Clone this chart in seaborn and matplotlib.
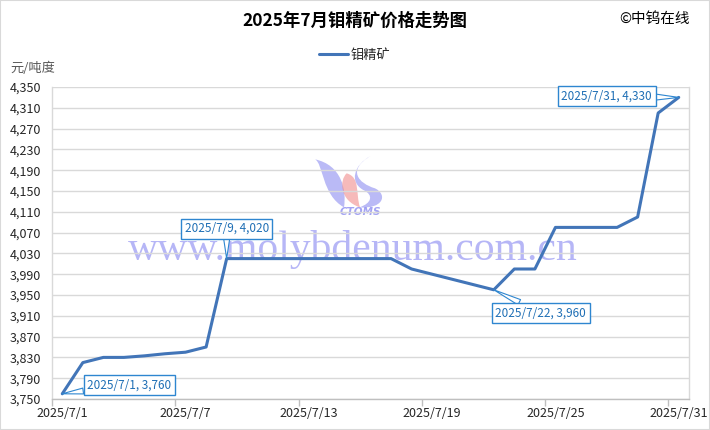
import matplotlib
matplotlib.use("Agg")
import matplotlib.pyplot as plt
import seaborn as sns
import pandas as pd
from matplotlib.ticker import FuncFormatter, FixedLocator
from matplotlib.patches import Rectangle, PathPatch
from matplotlib.path import Path
from matplotlib.lines import Line2D

# ---- data ----
days = list(range(1, 32))
prices = [3760, 3820, 3830, 3830, 3833, 3837, 3840, 3850, 4020, 4020,
          4020, 4020, 4020, 4020, 4020, 4020, 4020, 4000, 3990, 3980,
          3970, 3960, 4000, 4000, 4080, 4080, 4080, 4080, 4100, 4300, 4330]
tick_days = [1, 7, 13, 19, 25, 31]
tick_labels = ["2025/7/1", "2025/7/7", "2025/7/13", "2025/7/19", "2025/7/25", "2025/7/31"]
y_ticks = list(range(3750, 4351, 40))
series_name = "钼精矿"
title = "2025年7月钼精矿价格走势图"
unit = "元/吨度"
credit = "©中钨在线"
callout_days = [1, 9, 22, 31]
callout_offsets = [(67, 9), (0, 30), (47, -23), (-72, 1)]

df = pd.DataFrame({"day": days, "price": prices, "series": series_name})

sns.set_theme(style="white")
plt.rcParams["font.family"] = ["Noto Sans CJK SC", "DejaVu Sans"]

fig = plt.figure(figsize=(7.1, 4.3), dpi=100)
ax = fig.add_axes([52 / 710, 1 - 399 / 430, (689 - 52) / 710, (399 - 87) / 430])

line_color = "#4275B8"
sns.lineplot(data=df, x="day", y="price", hue="series", palette=[line_color],
             linewidth=2.2, ax=ax, legend=False, zorder=3)

ax.set_xlim(0.5, 31.5)
ax.set_ylim(3750, 4350)
ax.set_yticks(y_ticks)
ax.yaxis.set_major_formatter(FuncFormatter(lambda v, p: f"{int(v):,}"))
ax.set_xticks(tick_days)
ax.set_xticklabels(tick_labels)
ax.xaxis.set_minor_locator(FixedLocator([d - 0.5 for d in tick_days]))
ax.tick_params(axis="x", which="major", length=0, labelsize=9, pad=6, colors="#262626")
ax.tick_params(axis="x", which="minor", length=5, width=1, color="#BFBFBF", direction="out", bottom=True)
ax.tick_params(axis="y", length=0, labelsize=9, colors="#262626", pad=8)
ax.set_xlabel("")
ax.set_ylabel("")
ax.grid(axis="y", color="#D9D9D9", linewidth=1)
ax.set_axisbelow(True)
for s in ["left", "right", "top"]:
    ax.spines[s].set_color("#D9D9D9")
    ax.spines[s].set_linewidth(1)
ax.spines["bottom"].set_color("#BFBFBF")
ax.spines["bottom"].set_linewidth(1)
ax.spines["top"].set_visible(False)


# ---- watermark (logo + site text) ----
def to_ax(zx, zy):
    px = 300 + zx / 3.0
    py = 150 + zy / 3.0
    return ((px - 52) / 637.0, (399 - py) / 312.0)


def swoosh(points, color):
    verts = [to_ax(*p) for p in points]
    codes = [Path.MOVETO] + [Path.CURVE4] * (len(verts) - 1)
    patch = PathPatch(Path(verts, codes), transform=ax.transAxes, fc=color, ec="none",
                      alpha=0.6, zorder=0.5)
    ax.add_patch(patch)


swoosh([(45, 28), (70, 40), (65, 135), (132, 172), (140, 120), (125, 45), (45, 28)], "#8C8CF0")
swoosh([(140, 70), (118, 90), (118, 152), (180, 172), (166, 130), (182, 82), (140, 70)], "#F08C8C")
swoosh([(212, 18), (140, 60), (175, 100), (225, 115), (265, 135), (248, 178), (178, 172),
        (215, 160), (222, 135), (190, 120), (148, 97), (160, 45), (212, 18)], "#8C8CF0")
ax.text((360 - 52) / 637, (399 - 212) / 312, "CTOMS", transform=ax.transAxes, ha="center",
        va="center", fontsize=7.5, fontweight="bold", fontstyle="italic", family="DejaVu Sans",
        color="#8C8CF0", alpha=0.8, zorder=0.5)
ax.text((353 - 52) / 637, (399 - 260) / 312, "www.molybdenum.com.cn", transform=ax.transAxes,
        ha="center", va="baseline", fontsize=30, family="Liberation Serif", color="#7B7BF0",
        alpha=0.55, zorder=0.5)

# ---- callouts ----
ann_color = "#2E86D0"
for d, (ox, oy) in zip(callout_days, callout_offsets):
    v = prices[d - 1]
    label = f"2025/7/{d}, {v:,}"
    ax.annotate(label, xy=(d, v), xytext=(ox, oy), textcoords="offset pixels",
                ha="center", va="center", fontsize=8.5, color="#1F6FB5",
                bbox=dict(boxstyle="square,pad=0.3", fc="white", ec=ann_color, lw=1),
                arrowprops=dict(arrowstyle="wedge,tail_width=0.5", fc="white", ec=ann_color, lw=0.8,
                                shrinkA=0, shrinkB=0),
                zorder=5)

# ---- titles / labels ----
fig.text(355 / 710, 1 - 21 / 430, title, ha="center", va="center", fontsize=12.5, fontweight="bold",
         color="#000000")
fig.text(690 / 710, 1 - 19 / 430, credit, ha="right", va="center", fontsize=10.5, color="#000000")
fig.text(10 / 710, 1 - 68 / 430, unit, ha="left", va="center", fontsize=9.5, color="#595959")

# ---- legend ----
h = [Line2D([0], [0], color=line_color, lw=2.2)]
fig.legend(h, [series_name], loc="center", bbox_to_anchor=(355 / 710, 1 - 55 / 430), frameon=False,
           fontsize=9.5, handlelength=2.2, handletextpad=0.2)

fig.patches.append(Rectangle((0, 0), 1, 1, transform=fig.transFigure, fill=False,
                             ec="#D9D9D9", lw=1.5))

fig.savefig("out.png", dpi=100)
